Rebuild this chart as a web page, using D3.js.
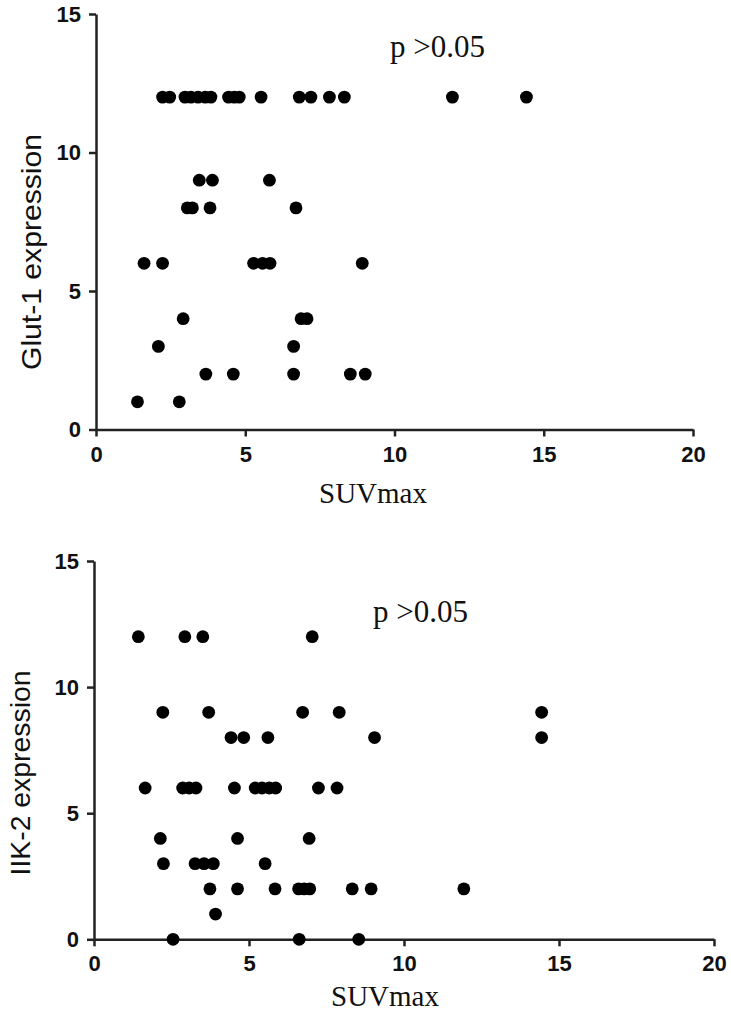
<!DOCTYPE html>
<html>
<head>
<meta charset="utf-8">
<script src="https://cdn.jsdelivr.net/npm/d3@7"></script>
<style>
  html, body { margin: 0; padding: 0; background: #fff; }
  svg { display: block; }
  .tick text { font-family: "Liberation Sans", Arial, sans-serif; font-weight: bold; font-size: 22px; fill: #111; }
  .domain, .tick line { stroke: #222; stroke-width: 2.5px; }
</style>
</head>
<body>
<svg id="chart" width="731" height="1014"></svg>
<script>
// ---- Top panel: Glut-1 expression vs SUVmax ----
const glutSUV = [
  2.23, 2.47, 2.98, 3.18, 3.42, 3.66, 3.85, 4.44, 4.63, 4.80, 5.53, 6.81, 7.20, 7.82, 8.32, 11.94, 14.42,
  3.46, 3.90, 5.81,
  3.06, 3.23, 3.82, 6.70,
  1.61, 2.23, 5.28, 5.58, 5.83, 8.92,
  2.92, 6.87, 7.07,
  2.09, 6.62,
  3.68, 4.60, 6.62, 8.52, 9.02,
  1.39, 2.79
];
const glutScore = [
  12, 12, 12, 12, 12, 12, 12, 12, 12, 12, 12, 12, 12, 12, 12, 12, 12,
  9, 9, 9,
  8, 8, 8, 8,
  6, 6, 6, 6, 6, 6,
  4, 4, 4,
  3, 3,
  2, 2, 2, 2, 2,
  1, 1
];

// ---- Bottom panel: IIK-2 expression vs SUVmax ----
const iikSUV = [
  1.43, 2.93, 3.51, 7.04,
  2.22, 3.70, 6.73, 7.91, 14.44,
  4.42, 4.83, 5.61, 9.05, 14.44,
  1.65, 2.86, 3.07, 3.29, 4.53, 5.20, 5.42, 5.65, 5.86, 7.24, 7.84,
  2.14, 4.63, 6.94,
  2.24, 3.26, 3.55, 3.85, 5.52,
  3.74, 4.63, 5.84, 6.60, 6.78, 6.96, 8.33, 8.94, 11.93,
  3.92,
  2.55, 6.62, 8.54
];
const iikScore = [
  12, 12, 12, 12,
  9, 9, 9, 9, 9,
  8, 8, 8, 8, 8,
  6, 6, 6, 6, 6, 6, 6, 6, 6, 6, 6,
  4, 4, 4,
  3, 3, 3, 3, 3,
  2, 2, 2, 2, 2, 2, 2, 2, 2,
  1,
  0, 0, 0
];

const xTicks = [0, 5, 10, 15, 20];
const yTicks = [0, 5, 10, 15];
const xTitle = "SUVmax";
const pText = "p >0.05";

const svg = d3.select("#chart");

function panel(cfg) {
  const x = d3.scaleLinear().domain([0, 20]).range([cfg.x0, cfg.x1]);
  const y = d3.scaleLinear().domain([0, 15]).range([cfg.y0, cfg.y1]);
  const g = svg.append("g");

  g.append("g")
    .attr("transform", `translate(0,${cfg.y0})`)
    .call(d3.axisBottom(x).tickValues(xTicks).tickSize(7).tickSizeOuter(0).tickPadding(cfg.xPad));
  g.append("g")
    .attr("transform", `translate(${cfg.x0},0)`)
    .call(d3.axisLeft(y).tickValues(yTicks).tickSize(7).tickSizeOuter(0).tickPadding(8));

  g.selectAll("circle.pt")
    .data(cfg.xs.map((v, i) => [v, cfg.ys[i]]))
    .join("circle")
    .attr("class", "pt")
    .attr("cx", d => x(d[0]))
    .attr("cy", d => y(d[1]))
    .attr("r", 6.4)
    .attr("fill", "#000");

  g.append("text")
    .attr("x", cfg.xtX).attr("y", cfg.xtY)
    .attr("text-anchor", "middle")
    .style("font-family", "'Liberation Serif', 'Times New Roman', serif")
    .style("font-size", cfg.xtSize + "px")
    .attr("fill", "#111")
    .text(xTitle);

  g.append("text")
    .attr("transform", `translate(${cfg.ytX},${cfg.ytY}) rotate(-90)`)
    .attr("text-anchor", "middle")
    .attr("textLength", cfg.ytLen)
    .attr("lengthAdjust", "spacingAndGlyphs")
    .style("font-family", "'Liberation Sans Narrow', 'Arial Narrow', 'Liberation Sans', sans-serif")
    .style("font-size", "28px")
    .attr("fill", "#111")
    .text(cfg.yTitle);

  g.append("text")
    .attr("x", cfg.pX).attr("y", cfg.pY)
    .style("font-family", "'Liberation Serif', 'Times New Roman', serif")
    .style("font-size", "31px")
    .attr("fill", "#111")
    .text(pText);
}

panel({
  x0: 96, x1: 693, y0: 429.5, y1: 14,
  xs: glutSUV, ys: glutScore,
  xPad: 10,
  xtX: 373, xtY: 503, xtSize: 29,
  ytX: 41, ytY: 252, ytLen: 236, yTitle: "Glut-1 expression",
  pX: 390, pY: 57
});

panel({
  x0: 94, x1: 714, y0: 939.3, y1: 561,
  xs: iikSUV, ys: iikScore,
  xPad: 9,
  xtX: 385, xtY: 1006, xtSize: 29,
  ytX: 30, ytY: 773, ytLen: 205, yTitle: "IIK-2 expression",
  pX: 373, pY: 622
});
</script>
</body>
</html>
